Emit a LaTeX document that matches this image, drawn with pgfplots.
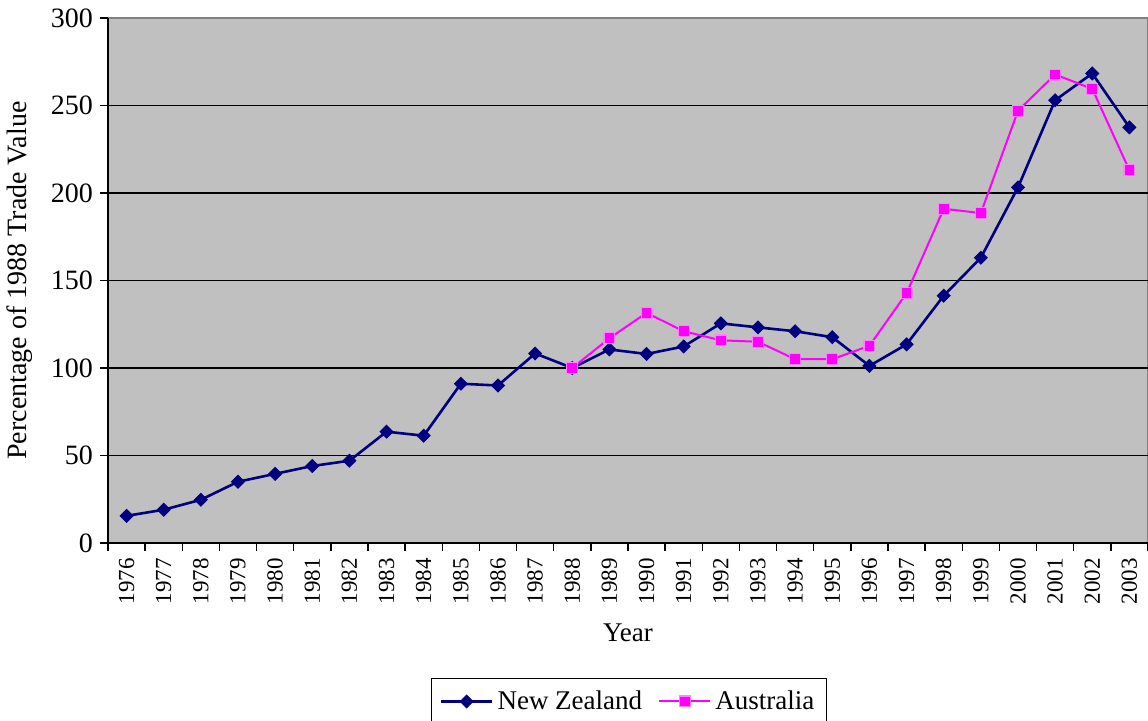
\documentclass[border=0pt]{standalone}
\usepackage{fontspec}
\setmainfont{Liberation Serif}
\usepackage{pgfplots}
\pgfplotsset{compat=1.18}
\definecolor{nzblue}{RGB}{0,0,128}
\definecolor{aumag}{RGB}{255,0,255}
\definecolor{aulight}{RGB}{255,130,255}
\definecolor{bggrey}{RGB}{192,192,192}
\definecolor{bordergrey}{RGB}{128,128,128}
\begin{document}
\begin{tikzpicture}
\useasboundingbox (-54pt,-89pt) rectangle (520pt,271.5pt);
\begin{axis}[
  at={(0,0)}, anchor=south west,
  scale only axis, width=520pt, height=262.5pt,
  xmin=-0.5, xmax=27.5, ymin=0, ymax=300,
  axis background/.style={fill=bggrey, draw=bordergrey, line width=0.6pt},
  axis x line*=bottom, axis y line*=left,
  axis line style={-, black, line width=0.7pt},
  xtick={-0.5,0.5,...,27.5},
  x tick label as interval,
  xticklabels={1976,1977,1978,1979,1980,1981,1982,1983,1984,1985,1986,1987,1988,1989,1990,1991,1992,1993,1994,1995,1996,1997,1998,1999,2000,2001,2002,2003},
  xticklabel style={rotate=90, anchor=east, font=\fontsize{11.5}{13}\selectfont},
  ytick={0,50,...,250},
  extra y ticks={300},
  extra y tick style={grid=none},
  ymajorgrids,
  grid style={black, line width=0.75pt},
  yticklabel style={font=\fontsize{14}{16}\selectfont},
  /pgf/number format/assume math mode=true,
  tick align=outside,
  major tick length=4pt,
  tick style={black, line width=0.7pt},
  xlabel={Year},
  xlabel style={at={(axis description cs:0.5,0)}, anchor=center, yshift=-45pt, font=\fontsize{13.5}{15}\selectfont},
  ylabel={Percentage of 1988 Trade Value},
  ylabel style={at={(axis description cs:-0.0846,0.5)}, anchor=center, font=\fontsize{14}{16}\selectfont},
  legend columns=2,
  legend style={at={(axis description cs:0.501,-0.257)}, anchor=north, draw=black, line width=0.7pt,
    font=\fontsize{13.5}{15}\selectfont, /tikz/every even column/.append style={column sep=6pt},
    inner xsep=4pt, inner ysep=4pt},
  legend image code/.code={\draw[mark repeat=2,mark phase=2] plot coordinates {(0cm,0cm) (0.45cm,0cm) (0.9cm,0cm)};},
]
\addplot[color=nzblue, line width=1.3pt, mark=square*, mark size=2.3pt,
  mark options={rotate=45, fill=nzblue, draw=nzblue, line width=0.4pt}]
coordinates {
(0,15.5) (1,19) (2,24.7) (3,35) (4,39.5) (5,44) (6,47) (7,63.6) (8,61.3) (9,91)
(10,90) (11,108.3) (12,100) (13,110.6) (14,108) (15,112.3) (16,125.5) (17,123.2)
(18,121) (19,117.6) (20,101.2) (21,113.5) (22,141.3) (23,163) (24,203.2) (25,253)
(26,268.3) (27,237.5)
};
\addlegendentry{New Zealand}
\addplot[color=aumag, line width=1pt, mark=square*, mark size=2.7pt,
  mark options={fill=aumag, draw=aulight, line width=0.6pt}]
coordinates {
(12,100) (13,117) (14,131.5) (15,121) (16,115.8) (17,115) (18,105) (19,105)
(20,112.7) (21,142.7) (22,191) (23,188.5) (24,247) (25,267.7) (26,259.5) (27,213)
};
\addlegendentry{Australia}
\end{axis}
\end{tikzpicture}
\end{document}
